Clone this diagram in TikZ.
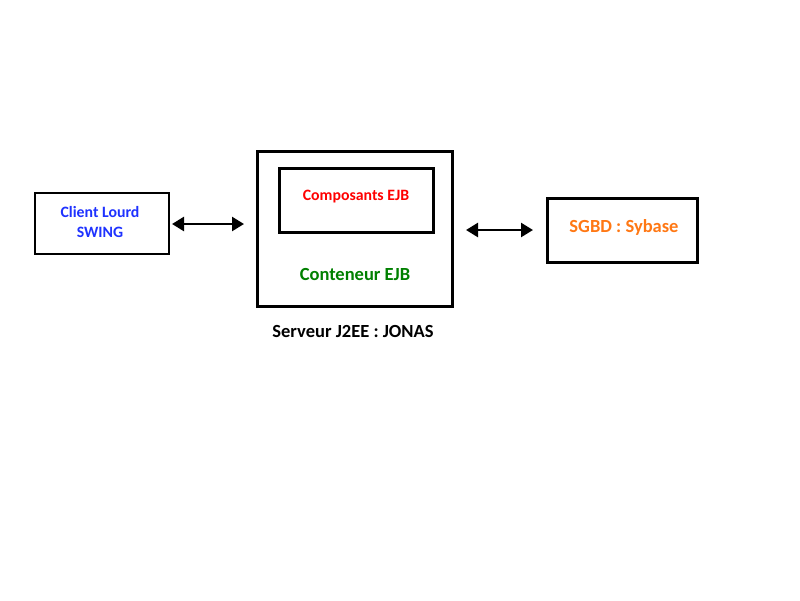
\documentclass[tikz,border=0pt]{standalone}
\usepackage{fontspec}
\setmainfont{Carlito}
\usetikzlibrary{arrows.meta}
\definecolor{cblue}{RGB}{30,50,255}
\definecolor{cred}{RGB}{255,0,0}
\definecolor{cgreen}{RGB}{0,128,0}
\definecolor{corange}{RGB}{255,120,20}
\begin{document}
\begin{tikzpicture}[x=1pt,y=-1pt,
  boxthin/.style={draw=black,line width=2pt,inner sep=0pt},
  boxthick/.style={draw=black,line width=3pt,inner sep=0pt},
  lbl/.style={font=\bfseries\fontsize{15.8}{20}\selectfont,align=center},
  lblbig/.style={font=\bfseries\fontsize{18.5}{22}\selectfont},
  dblarrow/.style={{Triangle[length=12pt,width=14pt]}-{Triangle[length=12pt,width=14pt]},line width=2.5pt}]
\useasboundingbox (0,0) rectangle (800,600);
\fill[white] (0,0) rectangle (800,600);
\node[boxthin,minimum width=134pt,minimum height=61pt] (clientbox) at (102,223.5) {};
\node[boxthick,minimum width=195pt,minimum height=155pt] (server) at (354.5,228.5) {};
\node[boxthick,minimum width=154pt,minimum height=64pt] (inner) at (356,200) {};
\node[boxthick,minimum width=150pt,minimum height=64pt] (sgbdbox) at (622,230) {};
\node[lbl,text=cblue] (client) at (100,222) {Client Lourd\\SWING};
\node[lbl,text=cred] (comp) at (356,197) {Composants EJB};
\node[lblbig,text=cgreen] (cont) at (355,274) {Conteneur EJB};
\node[lblbig,text=black] (serv) at (353,331) {Serveur J2EE : JONAS};
\node[lblbig,text=corange] (sgbd) at (624,227) {SGBD : Sybase};
\draw[dblarrow,shorten <=2pt,shorten >=11.5pt] ([yshift=-0.5pt]clientbox.east) -- ([yshift=-0.5pt]clientbox.east -| server.west);
\draw[dblarrow,shorten <=12.5pt,shorten >=12.5pt] (server.east |- sgbdbox.west) -- (sgbdbox.west);
\end{tikzpicture}
\end{document}
